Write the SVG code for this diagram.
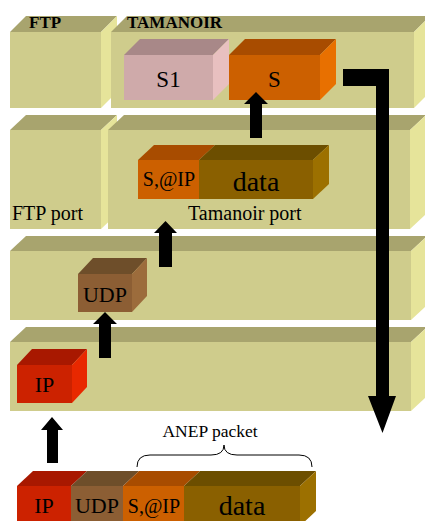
<svg xmlns="http://www.w3.org/2000/svg" width="425" height="521" viewBox="0 0 425 521">
  <style>
    text { font-family: "Liberation Serif", "Times New Roman", serif; fill: #000; }
    .lbl { font-size: 20px; }
    .hd { font-size: 17px; font-weight: bold; }
    .big { font-size: 22px; text-anchor: middle; }
    .mid { font-size: 20px; text-anchor: middle; }
    .dat { font-size: 28px; text-anchor: middle; }
    .lf { fill: #CFCC8C; } .lt { fill: #A8A46E; } .ls { fill: #E6E49A; }
    .pf { fill: #CFAAAA; } .pt { fill: #A88888; } .ps { fill: #E8C0C0; }
    .of { fill: #CC6000; } .ot { fill: #A84C00; } .os { fill: #E87000; }
    .df { fill: #8A6000; } .dt { fill: #6C4E00; } .ds { fill: #9C7000; }
    .uf { fill: #8C5E34; } .ut { fill: #6E4E2A; } .us { fill: #9C6C3C; }
    .rf { fill: #CC2200; } .rt { fill: #A81800; } .rs { fill: #E82800; }
    .arrow { fill: #000; }
  </style>

  <!-- Layer 1: FTP / TAMANOIR -->
  <g id="ftp-app">
    <rect class="lf" x="10" y="32" width="91" height="76"/>
    <polygon class="lt" points="10,32 26,16 117,16 101,32"/>
    <polygon class="ls" points="101,32 117,16 117,92 101,108"/>
    <text class="hd" x="29" y="28">FTP</text>
  </g>
  <g id="tamanoir-app">
    <rect class="lf" x="111" y="32" width="303" height="76"/>
    <polygon class="lt" points="111,32 127,16 430,16 414,32"/>
    <polygon class="ls" points="414,32 430,16 430,92 414,108"/>
    <text class="hd" x="127" y="28">TAMANOIR</text>
  </g>
  <g id="service-s1">
    <rect class="pf" x="124" y="55" width="89" height="45"/>
    <polygon class="pt" points="124,55 140,39 229,39 213,55"/>
    <polygon class="ps" points="213,55 229,39 229,84 213,100"/>
    <text class="big" x="168.5" y="87" style="font-size:23px">S1</text>
  </g>
  <g id="service-s">
    <rect class="of" x="229" y="55" width="91" height="45"/>
    <polygon class="ot" points="229,55 245,39 336,39 320,55"/>
    <polygon class="os" points="320,55 336,39 336,84 320,100"/>
    <text class="big" x="274.5" y="87" style="font-size:23px">S</text>
  </g>

  <!-- Layer 2: ports -->
  <g id="ftp-port">
    <rect class="lf" x="10" y="130" width="91" height="99"/>
    <polygon class="lt" points="10,130 26,115 117,115 101,130"/>
    <polygon class="ls" points="101,130 117,115 117,214 101,229"/>
    <text class="lbl" x="12" y="220">FTP port</text>
  </g>
  <g id="tamanoir-port">
    <rect class="lf" x="108" y="130" width="302" height="99"/>
    <polygon class="lt" points="108,130 124,115 426,115 410,130"/>
    <polygon class="ls" points="410,130 426,115 426,214 410,229"/>
    <text class="lbl" x="188" y="220">Tamanoir port</text>
  </g>
  <g id="anep-port-packet">
    <rect class="of" x="138" y="160" width="61" height="39"/>
    <polygon class="ot" points="138,160 154,145 215,145 199,160"/>
    <text class="mid" x="169" y="186">S,@IP</text>
    <rect class="df" x="199" y="160" width="114" height="39"/>
    <polygon class="dt" points="199,160 215,145 329,145 313,160"/>
    <polygon class="ds" points="313,160 329,145 329,184 313,199"/>
    <text class="dat" x="256" y="191">data</text>
  </g>

  <!-- Layer 3: UDP -->
  <g id="udp-layer">
    <rect class="lf" x="10" y="251" width="401" height="69"/>
    <polygon class="lt" points="10,251 26,236 427,236 411,251"/>
    <polygon class="ls" points="411,251 427,236 427,305 411,320"/>
  </g>
  <g id="udp-header">
    <rect class="uf" x="78" y="274" width="54" height="38"/>
    <polygon class="ut" points="78,274 93,258 147,258 132,274"/>
    <polygon class="us" points="132,274 147,258 147,296 132,312"/>
    <text class="big" x="105" y="302">UDP</text>
  </g>

  <!-- Layer 4: IP -->
  <g id="ip-layer">
    <rect class="lf" x="10" y="342" width="401" height="69"/>
    <polygon class="lt" points="10,342 26,327 427,327 411,342"/>
    <polygon class="ls" points="411,342 427,327 427,396 411,411"/>
  </g>
  <g id="ip-header">
    <rect class="rf" x="17" y="365" width="55" height="38"/>
    <polygon class="rt" points="17,365 32,349 87,349 72,365"/>
    <polygon class="rs" points="72,365 87,349 87,387 72,403"/>
    <text class="big" x="44.5" y="392">IP</text>
  </g>

  <!-- Incoming packet -->
  <g id="incoming-packet">
    <rect class="rf" x="17" y="486" width="54" height="40"/>
    <polygon class="rt" points="17,486 33,471 87,471 71,486"/>
    <text class="big" x="44" y="513">IP</text>
    <rect class="uf" x="71" y="486" width="52" height="40"/>
    <polygon class="ut" points="71,486 87,471 139,471 123,486"/>
    <text class="big" x="97" y="513">UDP</text>
    <rect class="of" x="123" y="486" width="61" height="40"/>
    <polygon class="ot" points="123,486 139,471 200,471 184,486"/>
    <text class="mid" x="154" y="513">S,@IP</text>
    <rect class="df" x="184" y="486" width="116" height="40"/>
    <polygon class="dt" points="184,486 200,471 316,471 300,486"/>
    <polygon class="ds" points="300,486 316,471 316,511 300,526"/>
    <text class="dat" x="242" y="515">data</text>
  </g>
  <g id="anep-label">
    <path d="M137,467 Q137,455 150,455 L211,455 Q224,455 224,445 Q224,455 237,455 L299,455 Q312,455 312,467" fill="none" stroke="#000" stroke-width="1"/>
    <text x="210" y="437" style="font-size:17.5px" text-anchor="middle">ANEP packet</text>
  </g>

  <!-- Connectors -->
  <g id="connectors">
    <polygon class="arrow" points="52,417 63,430 58,430 58,463 47,463 47,430 41,430"/>
    <polygon class="arrow" points="105,312 117,324 111,324 111,358 99,358 99,324 93,324"/>
    <polygon class="arrow" points="165.5,221 177,233 172,233 172,267 159,267 159,233 154,233"/>
    <polygon class="arrow" points="256,92 268,104 262,104 262,138 250,138 250,104 244,104"/>
    <polygon class="arrow" points="343,69 389,69 389,396 396,396 382.5,433 368,396 376,396 376,86 343,86"/>
  </g>
</svg>
